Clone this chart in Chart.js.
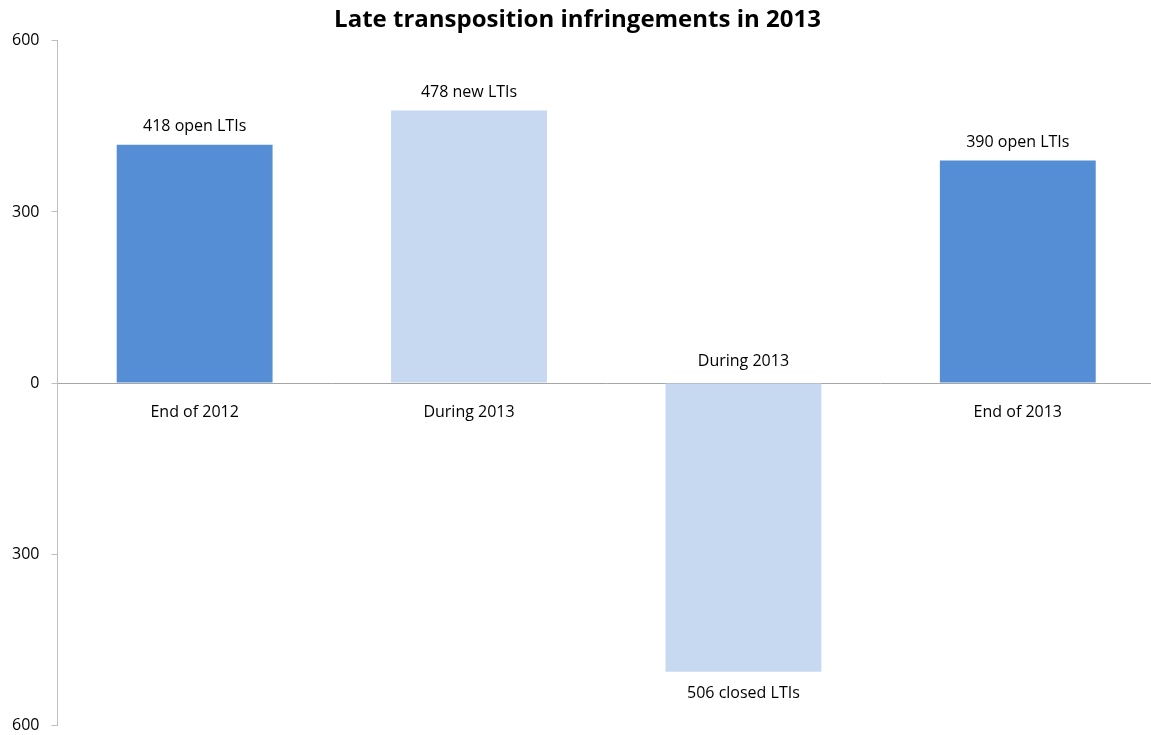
<!DOCTYPE html>
<html>
<head>
<meta charset="utf-8">
<script src="https://cdn.jsdelivr.net/npm/chart.js@4.4.1/dist/chart.umd.min.js"></script>
<style>
  html, body { margin: 0; padding: 0; background: #fff; overflow: hidden; }
  #wrap { width: 1155px; height: 747px; position: relative; }
</style>
</head>
<body>
<div id="wrap"><canvas id="lti"></canvas></div>
<script>
const categories = ['End of 2012', 'During 2013', 'During 2013', 'End of 2013'];
const values = [418, 478, -506, 390];
const valueLabels = ['418 open LTIs', '478 new LTIs', '506 closed LTIs', '390 open LTIs'];
const barColors = ['#558ed5', '#c6d9f1', '#c6d9f1', '#558ed5'];
const yTicks = [-600, -300, 0, 300, 600];

const FONT = "'Open Sans', sans-serif";

// category names sit on the zero line, value captions at the bar ends
const barLabels = {
  id: 'barLabels',
  afterDatasetsDraw(chart) {
    const ctx = chart.ctx;
    const y = chart.scales.y;
    const zero = y.getPixelForValue(0);
    const meta = chart.getDatasetMeta(0);
    ctx.save();
    ctx.font = '16px ' + FONT;
    ctx.fillStyle = '#000';
    ctx.textAlign = 'center';
    ctx.textBaseline = 'middle';
    meta.data.forEach(function (bar, i) {
      const v = values[i];
      if (v >= 0) {
        ctx.fillText(categories[i], bar.x, zero + 29);
        ctx.fillText(valueLabels[i], bar.x, bar.y - 18);
      } else {
        ctx.fillText(categories[i], bar.x, zero - 22);
        ctx.fillText(valueLabels[i], bar.x, bar.y + 22);
      }
    });
    ctx.restore();
  }
};

new Chart(document.getElementById('lti'), {
  type: 'bar',
  data: {
    labels: categories,
    datasets: [{
      data: values,
      backgroundColor: barColors,
      borderWidth: 0,
      categoryPercentage: 1,
      barPercentage: 0.568
    }]
  },
  options: {
    responsive: true,
    maintainAspectRatio: false,
    animation: false,
    layout: { padding: 0 },
    plugins: {
      legend: { display: false },
      tooltip: { enabled: false },
      title: {
        display: true,
        text: 'Late transposition infringements in 2013',
        color: '#000',
        font: { family: FONT, size: 24, weight: 'bold' },
        padding: { top: 6, bottom: 6 }
      }
    },
    scales: {
      x: {
        display: false
      },
      y: {
        min: -600,
        max: 600,
        afterBuildTicks(axis) {
          axis.ticks = yTicks.map(v => ({ value: v }));
        },
        border: { color: '#bfbfbf', width: 1 },
        grid: {
          drawOnChartArea: true,
          tickLength: 6,
          tickColor: '#bfbfbf',
          color: c => (c.tick && c.tick.value === 0 ? '#a6a6a6' : 'rgba(0,0,0,0)')
        },
        ticks: {
          color: '#000',
          padding: 12,
          font: { family: FONT, size: 16 },
          callback: v => String(Math.abs(v))
        }
      }
    }
  },
  plugins: [barLabels]
});
</script>
</body>
</html>
